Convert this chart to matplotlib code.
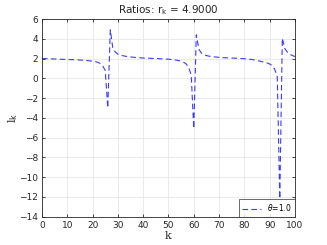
import matplotlib
matplotlib.use("Agg")
import matplotlib.pyplot as plt
import numpy as np

k = list(range(0, 101))
r = [2.00, 1.99, 1.98, 1.97, 1.96, 1.95, 1.94, 1.93, 1.92, 1.91,
     1.90, 1.89, 1.88, 1.87, 1.86, 1.84, 1.83, 1.81, 1.79, 1.76,
     1.73, 1.69, 1.62, 1.50, 1.25, 0.80, -3.00, 4.90, 3.05, 2.65,
     2.45, 2.35, 2.28, 2.23, 2.19, 2.16, 2.13, 2.11, 2.09, 2.07,
     2.05, 2.04, 2.03, 2.02, 2.01, 2.00, 1.99, 1.97, 1.96, 1.95,
     1.93, 1.91, 1.88, 1.84, 1.79, 1.72, 1.62, 1.45, 1.10, 0.30,
     -5.10, 4.40, 2.95, 2.55, 2.40, 2.30, 2.24, 2.20, 2.17, 2.14,
     2.12, 2.10, 2.08, 2.07, 2.06, 2.05, 2.04, 2.02, 2.01, 2.00,
     1.98, 1.96, 1.93, 1.90, 1.85, 1.80, 1.74, 1.68, 1.62, 1.55,
     1.45, 1.28, 0.90, 0.20, -12.20, 4.05, 3.00, 2.65, 2.42, 2.30,
     2.20]
xticks = list(range(0, 101, 10))
yticks = list(range(-14, 7, 2))
title = "Ratios: r$_{\\mathrm{k}}$ = 4.9000"
legend_label = r"$\theta$=1.0"

fig = plt.figure(figsize=(3.27, 2.45), dpi=100)
ax = fig.add_axes([0.1284, 0.1163, 0.7736, 0.8061])
ax.plot(k, r, linestyle=(0, (5, 3)), color="#3a3aff", lw=0.8, label=legend_label)
ax.set_xlim(0, 100)
ax.set_ylim(-14, 6)
ax.set_xticks(xticks)
ax.set_yticks(yticks)
ax.grid(True, color="#e6e6e6", lw=0.6)
ax.set_axisbelow(True)
tc = "#262626"
ax.tick_params(direction="in", length=2.5, width=0.6, labelsize=6.5, colors=tc,
               top=True, right=True, pad=3)
for s in ax.spines.values():
    s.set_color("#262626")
    s.set_linewidth(0.6)
ax.set_title(title, fontsize=7.5, color="#262626", pad=4)
ax.set_xlabel("k", family="serif", fontsize=8, color="#262626", labelpad=1)
ax.set_ylabel("l$_{\\mathrm{k}}$", family="serif", fontsize=8, color="#262626")
ax.yaxis.set_label_coords(-0.085, 0.5)
leg = ax.legend(loc="lower right", fontsize=5.5, frameon=True, fancybox=False,
                borderaxespad=0, handlelength=2.5, borderpad=0.4, edgecolor="#262626")
leg.get_frame().set_linewidth(0.6)
fig.savefig("out.png", dpi=100)
